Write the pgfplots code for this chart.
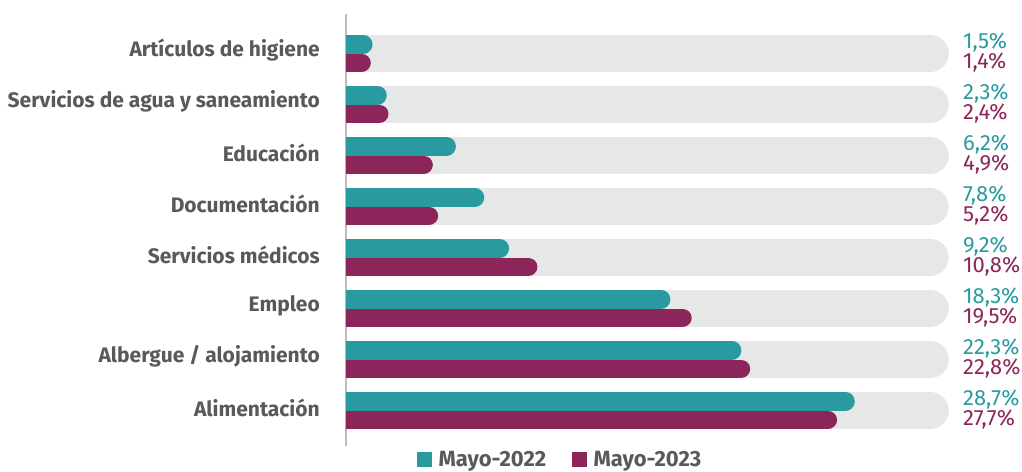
\documentclass[border=0pt]{standalone}
\usepackage{pgfplots}
\usepackage{pgfplotstable}
\pgfplotsset{compat=1.18}
\usepackage{fontspec}
\setmainfont{Fira Sans}
\newfontfamily\valfont{Fira Sans}

\definecolor{c22}{HTML}{299BA0}
\definecolor{c23}{HTML}{8C2559}
\definecolor{bggray}{HTML}{E5E8E7}
\definecolor{labgray}{HTML}{58595B}
\definecolor{axgray}{HTML}{BDBDBD}

% pos 8 = top row, a = Mayo-2022, b = Mayo-2023
\pgfplotstableread{
pos a b
8 1.5 1.4
7 2.3 2.4
6 6.2 4.9
5 7.8 5.2
4 9.2 10.8
3 18.3 19.5
2 22.3 22.8
1 28.7 27.7
}\data

\begin{document}
\begin{tikzpicture}
\begin{axis}[
  x=17.73pt, y=51pt,
  xmin=0, xmax=38, ymin=0.304, ymax=8.775,
  enlargelimits=false,
  axis x line=none, axis y line*=left,
  y axis line style={draw=axgray, line width=1.3pt},
  xtick=\empty,
  ytick={1,...,8},
  yticklabels={Alimentación, Albergue / alojamiento, Empleo, Servicios médicos,
    Documentación, Educación, Servicios de agua y saneamiento, Artículos de higiene},
  major tick length=0pt,
  yticklabel style={font=\bfseries\fontsize{21}{24}\selectfont, text=labgray,
    anchor=east, inner sep=0pt, xshift=-26pt, yshift=3pt},
  legend style={draw=none, fill=none, at={(0.318,0)}, anchor=north, yshift=-1pt,
    legend columns=2, font=\bfseries\fontsize{22}{24}\selectfont, text=labgray,
    /tikz/every even column/.append style={column sep=24pt}},
  valnodes/.style={forget plot, draw=none,
    point meta=explicit,
    nodes near coords={\valfont\pgfmathprintnumber[fixed, fixed zerofill, precision=1,
      use comma, assume math mode=true]{\pgfplotspointmeta}\%},
    every node near coord/.append style={anchor=west, inner sep=0pt,
      font=\fontsize{22}{23}\selectfont, text=#1}},
]
% grey tracks
\addplot[forget plot, draw=bggray, line width=37pt, line cap=round, shorten >=18.5pt,
  quiver={u=34, v=0}] table[x expr=0, y=pos] {\data};
% bars
\addplot[forget plot, draw=c22, line width=18.5pt, line cap=round, shorten >=9.25pt,
  yshift=9.25pt, quiver={u=\thisrow{a}, v=0}] table[x expr=0, y=pos] {\data};
\addplot[forget plot, draw=c23, line width=18.5pt, line cap=round, shorten >=9.25pt,
  yshift=-9.25pt, quiver={u=\thisrow{b}, v=0}] table[x expr=0, y=pos] {\data};
% value labels
\addplot[valnodes=c22, yshift=11pt] table[x expr=34.8, y=pos, meta=a] {\data};
\addplot[valnodes=c23, yshift=-9pt] table[x expr=34.8, y=pos, meta=b] {\data};

\addlegendimage{legend image code/.code={\fill[c22] (0pt,-7pt) rectangle (14pt,7pt);
  \path (19pt,0pt);}}
\addlegendentry{Mayo-2022}
\addlegendimage{legend image code/.code={\fill[c23] (0pt,-7pt) rectangle (14pt,7pt);
  \path (19pt,0pt);}}
\addlegendentry{Mayo-2023}
\end{axis}
\path (current axis.south west) ++(-346pt,-23pt);
\path (current axis.north east) ++(2.3pt,14pt);
\end{tikzpicture}
\end{document}
